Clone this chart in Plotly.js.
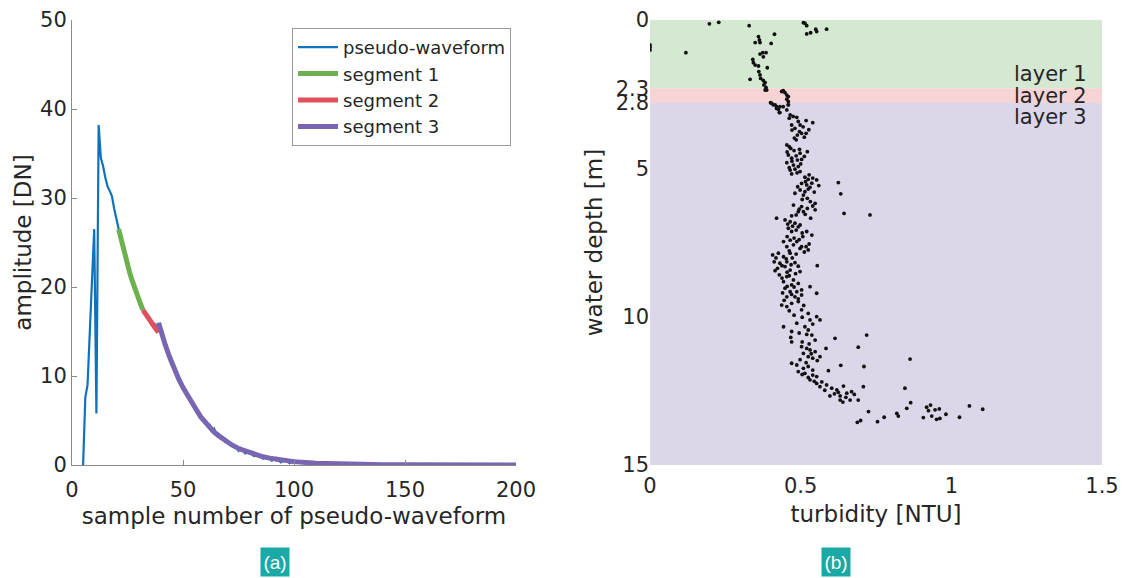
<!DOCTYPE html>
<html>
<head>
<meta charset="utf-8">
<script src="https://cdn.plot.ly/plotly-3.0.1.min.js"></script>
<style>
  html, body { margin: 0; padding: 0; background: #ffffff; }
  #chart { width: 1142px; height: 578px; }
</style>
</head>
<body>
<div id="chart"></div>
<script>
// ---- (a) pseudo-waveform and its three fitted segments ----
const waveSample = [5, 6, 7, 8, 9, 10, 11, 12, 13, 14, 15, 16, 17, 18, 19, 20, 21, 22, 23, 24, 25, 26, 27, 28, 29, 30,
  31, 32, 33, 34, 35, 36, 37, 38, 39, 40, 41, 42, 43, 44, 45, 46, 47, 48, 49, 50, 51, 52, 53, 54, 55, 56, 57, 58, 59, 60,
  61, 62, 63, 64, 65, 66, 67, 68, 69, 70, 72, 74, 75, 76, 78, 80, 82, 84, 86, 88, 90, 92, 94, 96, 98, 100,
  104, 108, 112, 116, 120, 130, 140, 150, 160, 170, 180, 190, 200];
const waveAmp = [0, 7.6, 9.0, 14.5, 20.5, 26.5, 5.8, 38.2, 34.5, 33.6, 32.3, 31.3, 30.8, 30.2, 28.8, 27.6, 26.5, 25.3, 24.3, 23.5, 22.4, 21.7, 20.7, 20.1, 19.2, 18.7,
  17.9, 17.5, 17.1, 16.5, 16.3, 15.7, 15.9, 15.6, 15.8, 15.3, 14.4, 13.6, 13.0, 12.1, 11.6, 10.9, 10.3, 9.7, 9.3, 8.7, 8.3, 7.7, 7.4, 6.9, 6.7, 6.3, 5.7, 5.5, 5.0, 4.9,
  4.4, 4.5, 3.9, 4.1, 3.4, 3.5, 3.0, 3.1, 2.6, 2.7, 2.2, 2.1, 1.6, 1.9, 1.3, 1.5, 1.0, 1.2, 0.7, 0.9, 0.5, 0.8, 0.3, 0.6, 0.2, 0.5,
  0.2, 0.35, 0.1, 0.2, 0.05, 0.15, 0.0, 0.1, 0.0, 0.08, 0.0, 0.05, 0.0];

const seg1Sample = [21, 22, 23, 24, 25, 26, 27, 28, 29, 30, 31, 32];
const seg1Amp = [26.5, 25.4, 24.4, 23.4, 22.5, 21.6, 20.8, 20.0, 19.3, 18.6, 18.0, 17.4];

const seg2Sample = [32, 33, 34, 35, 36, 37, 38, 39];
const seg2Amp = [17.4, 17.0, 16.6, 16.2, 15.8, 15.5, 15.2, 14.9];

const seg3Sample = [39, 40, 42, 44, 46, 48, 50, 52, 54, 56, 58, 60, 62, 64, 66, 68, 70, 72, 75, 78, 81, 85, 90, 95, 100,
  110, 120, 130, 140, 150, 170, 200];
const seg3Amp = [16.0, 15.1, 13.5, 12.1, 10.8, 9.7, 8.7, 7.8, 7.0, 6.2, 5.4, 4.8, 4.2, 3.7, 3.3, 2.9, 2.55, 2.25, 1.85, 1.55, 1.3, 1.0, 0.72, 0.52, 0.38,
  0.2, 0.11, 0.06, 0.035, 0.02, 0.01, 0.0];

const ampTicks = [0, 10, 20, 30, 40, 50];
const sampleTicks = [0, 50, 100, 150, 200];

// ---- (b) turbidity profile and water layers ----
const turbidity = [
  0.197, 0.228, 0.329, 0.509, 0.514, 0.520, 0.520, 0.533, 0.550, 0.553, 0.586,
  0.0, 0.0, 0.0, 0.119, 0.360, 0.363, 0.349, 0.365, 0.413, 0.402,
  0.365, 0.374, 0.385, 0.376, 0.341, 0.343, 0.349, 0.360, 0.389, 0.361, 0.365,
  0.332, 0.367, 0.376, 0.382, 0.378, 0.385, 0.387, 0.382,
  0.437, 0.442, 0.448, 0.454, 0.459, 0.454, 0.459,
  0.400, 0.409, 0.420, 0.426, 0.442, 0.459, 0.431,
  0.404, 0.415, 0.431, 0.420, 0.429, 0.459, 0.454,
  0.465, 0.462, 0.487, 0.470, 0.498, 0.518, 0.540, 0.481, 0.496, 0.503, 0.489, 0.518, 0.485,
  0.454, 0.467, 0.496, 0.522, 0.459, 0.498, 0.470, 0.489, 0.503, 0.454, 0.476, 0.492, 0.465, 0.481, 0.470, 0.498,
  0.514, 0.525, 0.553, 0.503, 0.520, 0.531, 0.498, 0.514, 0.509, 0.522, 0.481, 0.476, 0.503, 0.492, 0.522,
  0.548, 0.548, 0.485, 0.509, 0.533, 0.625, 0.633, 0.644, 0.420, 0.730,
  0.448, 0.465, 0.481, 0.498, 0.459, 0.470, 0.492, 0.520, 0.537, 0.443, 0.465, 0.487, 0.507,
  0.454, 0.476, 0.503, 0.518, 0.525, 0.498,
  0.407, 0.426, 0.443, 0.465, 0.485, 0.412, 0.431, 0.454, 0.481, 0.423, 0.448, 0.465, 0.498,
  0.429, 0.454, 0.476, 0.443, 0.470, 0.492, 0.448, 0.465, 0.487, 0.503, 0.454, 0.481, 0.503,
  0.437, 0.454, 0.470, 0.492, 0.531, 0.553, 0.555,
  0.503, 0.525, 0.531, 0.553, 0.564, 0.487, 0.514, 0.525, 0.443, 0.470, 0.467, 0.537, 0.548, 0.614, 0.719,
  0.503, 0.520, 0.531, 0.548, 0.509, 0.525, 0.540, 0.564, 0.584, 0.691,
  0.470, 0.487, 0.509, 0.525, 0.492, 0.514, 0.540, 0.553, 0.531, 0.553, 0.592, 0.633, 0.710,
  0.564, 0.586, 0.603, 0.620, 0.642, 0.653, 0.669, 0.597, 0.631, 0.631, 0.664, 0.691, 0.708, 0.725,
  0.863, 0.846, 0.865, 0.852, 0.819, 0.824, 0.777, 0.755, 0.688, 0.699,
  0.918, 0.931, 0.924, 0.946, 0.960, 0.935, 0.951, 0.962, 0.982, 0.907, 1.027, 1.060, 1.104,
  0.475, 0.492, 0.508, 0.471, 0.512, 0.479, 0.527,
  0.462, 0.478, 0.485, 0.471, 0.512, 0.462, 0.500, 0.488, 0.455,
  0.528, 0.540, 0.516, 0.537, 0.490, 0.525, 0.545, 0.505, 0.532, 0.495, 0.515, 0.560, 0.470, 0.540,
  0.457, 0.473, 0.485, 0.505, 0.455, 0.478, 0.495, 0.528, 0.462, 0.512,
  0.418, 0.452, 0.472, 0.438, 0.468, 0.492, 0.415, 0.455, 0.438, 0.462, 0.483, 0.455, 0.478, 0.440, 0.470, 0.492, 0.445, 0.510, 0.462,
  0.478, 0.505, 0.540, 0.495, 0.520, 0.505, 0.528, 0.470,
  0.535, 0.555, 0.498, 0.518, 0.540, 0.525, 0.545, 0.570, 0.505,
  0.580, 0.612, 0.625, 0.650, 0.678, 0.640
];
const depth = [
  0.13, 0.08, 0.19, 0.09, 0.11, 0.19, 0.47, 0.43, 0.31, 0.39, 0.31,
  0.84, 0.92, 1.01, 1.10, 0.56, 0.67, 0.76, 0.76, 0.48, 0.79,
  1.15, 1.10, 1.10, 1.24, 1.33, 1.44, 1.52, 1.55, 1.61, 1.74, 1.85,
  2.00, 1.97, 2.04, 2.11, 2.19, 2.27, 2.36, 2.36,
  2.41, 2.38, 2.45, 2.53, 2.58, 2.67, 2.75,
  2.79, 2.86, 2.92, 3.01, 2.92, 2.86, 3.12,
  2.81, 2.86, 2.92, 2.98, 3.12, 2.86, 3.03,
  3.20, 3.31, 3.28, 3.54, 3.54, 3.39, 3.46, 3.65, 3.76, 3.82, 3.88, 3.82, 4.04,
  4.21, 4.33, 4.36, 4.44, 4.55, 4.49, 4.66, 4.72, 4.70, 4.81, 4.89, 4.94, 5.06, 5.03, 5.19, 5.11,
  5.30, 5.37, 5.39, 5.51, 5.56, 5.64, 5.73, 5.79, 5.90, 6.01, 5.84, 6.24, 6.29, 6.46, 6.35,
  6.18, 6.40, 6.57, 6.46, 6.68, 5.48, 5.86, 6.52, 6.68, 6.57,
  6.74, 6.80, 6.85, 6.91, 7.02, 7.13, 6.97, 7.13, 7.25, 7.47, 7.42, 7.47, 7.30,
  7.64, 7.58, 7.64, 7.64, 7.75, 7.70,
  7.92, 7.86, 7.98, 7.86, 7.89, 8.15, 8.20, 8.15, 8.18, 8.37, 8.31, 8.43, 8.48,
  8.59, 8.65, 8.76, 8.82, 8.93, 8.88, 9.04, 9.16, 9.16, 9.10, 9.33, 9.33, 9.27,
  9.61, 9.66, 9.55, 9.49, 8.99, 9.21, 8.28,
  9.77, 9.89, 10.11, 10.00, 10.11, 10.22, 10.34, 10.45, 10.34, 10.50, 10.70, 10.62, 10.79, 10.73, 10.62,
  11.01, 11.07, 11.12, 11.18, 11.24, 11.35, 11.40, 11.35, 11.07, 11.03,
  11.57, 11.63, 11.74, 11.68, 11.85, 11.91, 11.97, 12.02, 12.13, 12.25, 11.82, 11.64, 11.68,
  12.36, 12.30, 12.41, 12.47, 12.34, 12.58, 12.53, 12.67, 12.67, 12.81, 12.81, 12.81, 12.36, 13.20,
  11.43, 12.41, 12.90, 13.09, 13.26, 13.35, 13.39, 13.54, 13.56, 13.50,
  13.05, 12.98, 13.17, 13.14, 13.11, 13.35, 13.46, 13.43, 13.29, 13.40, 13.39, 13.01, 13.12,
  3.25, 3.42, 3.60, 3.71, 3.95, 3.98, 3.70,
  4.27, 4.40, 4.58, 4.76, 4.60, 4.98, 4.85, 5.15, 4.45,
  5.22, 5.33, 5.45, 5.50, 5.62, 5.70, 5.80, 6.05, 6.12, 6.38, 6.55, 5.58, 6.60, 6.27,
  6.88, 6.95, 7.08, 7.18, 7.30, 7.35, 7.40, 7.55, 7.78, 7.82,
  8.02, 8.05, 8.02, 8.28, 8.25, 8.30, 8.45, 8.50, 8.70, 8.62, 8.55, 8.98, 9.00, 9.20, 9.25, 9.40, 9.45, 9.62, 9.80,
  9.95, 10.02, 10.25, 10.55, 10.60, 10.85, 10.92, 10.85,
  11.25, 11.48, 11.45, 11.55, 11.80, 12.05, 12.18, 12.20, 11.95,
  12.48, 12.60, 12.55, 12.72, 12.62, 12.88
];

const layerNames = ['layer 1', 'layer 2', 'layer 3'];
const layerTop = [0, 2.3, 2.8];
const layerBottom = [2.3, 2.8, 15];
const layerColors = ['#d5e8d2', '#f6d3d5', '#dcd6e9'];
const depthTicks = [0, 2.3, 2.8, 5, 10, 15];
const depthTickText = ['0', '2.3', '2.8', '5', '10', '15'];
const turbTicks = [0, 0.5, 1, 1.5];
const turbTickText = ['0', '0.5', '1', '1.5'];

const panelLabels = ['(a)', '(b)'];

// ---- styling ----
const FONT = 'DejaVu Sans, Verdana, sans-serif';
const TXT = '#262626';
const AXC = '#8a8a8a';

const traces = [
  { x: waveSample, y: waveAmp, name: 'pseudo-waveform', type: 'scatter', mode: 'lines',
    line: { color: '#0f72bd', width: 2.2 }, xaxis: 'x', yaxis: 'y' },
  { x: seg1Sample, y: seg1Amp, name: 'segment 1', type: 'scatter', mode: 'lines',
    line: { color: '#6cb04f', width: 5 }, xaxis: 'x', yaxis: 'y' },
  { x: seg2Sample, y: seg2Amp, name: 'segment 2', type: 'scatter', mode: 'lines',
    line: { color: '#e2505c', width: 5 }, xaxis: 'x', yaxis: 'y' },
  { x: seg3Sample, y: seg3Amp, name: 'segment 3', type: 'scatter', mode: 'lines',
    line: { color: '#7866b3', width: 5 }, xaxis: 'x', yaxis: 'y' },
  { x: turbidity, y: depth, name: 'turbidity', type: 'scatter', mode: 'markers',
    marker: { color: '#111111', size: 3.8 }, xaxis: 'x2', yaxis: 'y2', showlegend: false }
];

const shapes = layerNames.map((n, i) => ({
  type: 'rect', xref: 'x2', yref: 'y2', layer: 'below',
  x0: 0, x1: 1.5, y0: layerTop[i], y1: layerBottom[i],
  fillcolor: layerColors[i], line: { width: 0 }
}));

const annotations = [];
// layer names at the right edge of each band
layerNames.forEach((n, i) => {
  const anchor = i === 0 ? 'bottom' : (i === 1 ? 'middle' : 'top');
  const yPos = i === 0 ? layerBottom[i] : (i === 1 ? (layerTop[i] + layerBottom[i]) / 2 : layerTop[i]);
  annotations.push({
    xref: 'x2', yref: 'y2', x: 1.457, y: yPos, xanchor: 'right', yanchor: anchor,
    text: n, showarrow: false, font: { family: FONT, size: 21, color: TXT }
  });
});
// panel tags beneath the two plots
[0.1971, 0.7417].forEach((px, i) => {
  annotations.push({
    xref: 'paper', yref: 'paper', x: px, y: -0.218, xanchor: 'center', yanchor: 'middle',
    text: panelLabels[i], showarrow: false, bgcolor: '#1aa9a6', width: 28, height: 28, borderpad: 0,
    font: { family: 'Liberation Sans Narrow, Liberation Sans, Arial, sans-serif', size: 19, color: '#ffffff' }
  });
});

const axisCommon = {
  showgrid: false, zeroline: false, ticks: 'inside', ticklen: 5, tickwidth: 1,
  tickcolor: AXC, tickfont: { family: FONT, size: 21, color: TXT }
};

const layout = {
  width: 1142, height: 578,
  margin: { l: 72, r: 40, t: 20, b: 113 },
  paper_bgcolor: '#ffffff', plot_bgcolor: 'rgba(0,0,0,0)',
  showlegend: true,
  legend: {
    x: 0.2136, y: 0.982, xref: 'paper', yref: 'paper', xanchor: 'left', yanchor: 'top',
    bgcolor: '#ffffff', bordercolor: '#9a9a9a', borderwidth: 1, itemwidth: 40,
    font: { family: FONT, size: 18, color: TXT }, tracegroupgap: 0
  },
  xaxis: Object.assign({}, axisCommon, {
    domain: [0, 0.4311], range: [0, 200], tickvals: sampleTicks,
    showline: true, linecolor: AXC, linewidth: 1, anchor: 'y', ticklabelstandoff: 6,
    title: { text: 'sample number of pseudo-waveform', font: { family: FONT, size: 23, color: TXT }, standoff: 6 }
  }),
  yaxis: Object.assign({}, axisCommon, {
    domain: [0, 1], range: [0, 50], tickvals: ampTicks,
    showline: true, linecolor: AXC, linewidth: 1, anchor: 'x',
    title: { text: 'amplitude [DN]', font: { family: FONT, size: 23, color: TXT }, standoff: 2 }
  }),
  xaxis2: Object.assign({}, axisCommon, {
    domain: [0.5612, 1], range: [0, 1.5], tickvals: turbTicks, ticktext: turbTickText,
    showline: false, anchor: 'y2', ticks: '', ticklabelstandoff: 6,
    title: { text: 'turbidity [NTU]', font: { family: FONT, size: 23, color: TXT }, standoff: 8 }
  }),
  yaxis2: Object.assign({}, axisCommon, {
    domain: [0, 1], range: [15, 0], tickvals: depthTicks, ticktext: depthTickText,
    showline: false, anchor: 'x2', ticks: '',
    title: { text: 'water depth [m]', font: { family: FONT, size: 23, color: TXT }, standoff: 6 }
  }),
  shapes: shapes,
  annotations: annotations
};

Plotly.newPlot('chart', traces, layout, { staticPlot: true, displayModeBar: false });
</script>
</body>
</html>
